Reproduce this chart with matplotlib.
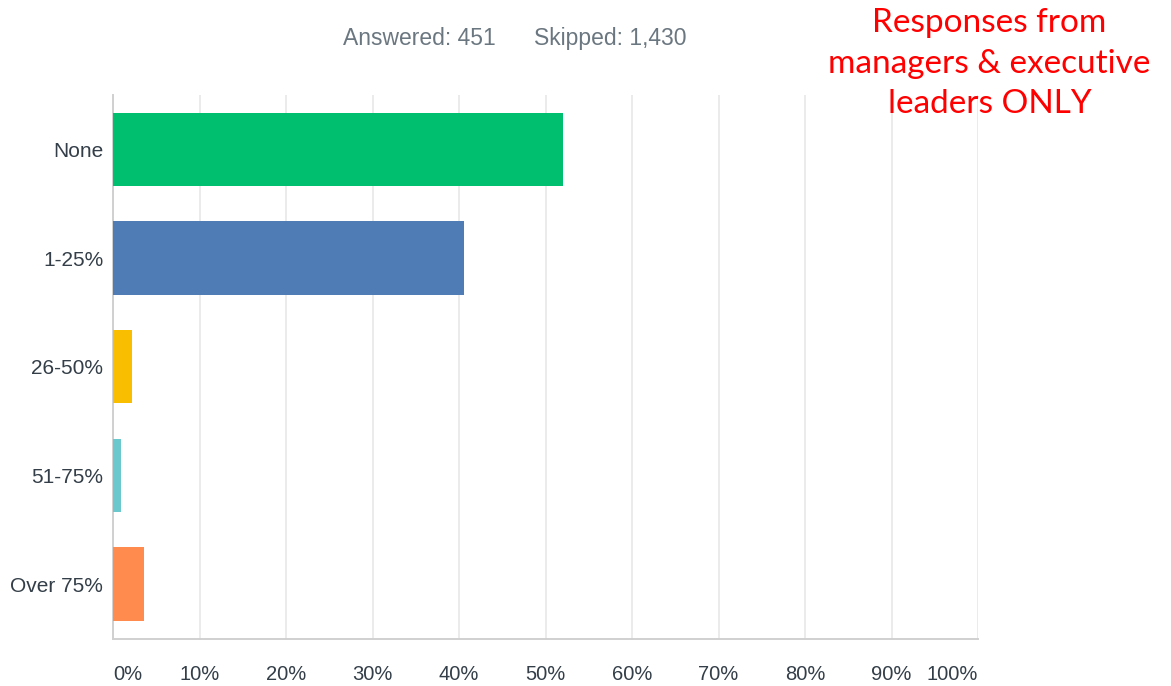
import matplotlib
matplotlib.use("Agg")
import matplotlib.pyplot as plt

categories = ["None", "1-25%", "26-50%", "51-75%", "Over 75%"]
values = [52.0, 40.6, 2.2, 0.9, 3.6]
colors = ["#00bf6f", "#507cb6", "#f9be00", "#6bc8cd", "#ff8b4f"]
xticks = [0, 10, 20, 30, 40, 50, 60, 70, 80, 90, 100]
xticklabels = [f"{t}%" for t in xticks]

plt.rcParams['font.family'] = ['Liberation Sans', 'DejaVu Sans']

fig = plt.figure(figsize=(11.71, 6.86), dpi=100)
ax = fig.add_axes([0.0965, 0.0692, 0.7387, 0.7923])

ypos = list(range(len(categories)))
ax.barh(ypos, values, height=0.675, color=colors, zorder=3)

ax.set_xlim(0, 100)
ax.set_ylim(len(categories) - 0.5, -0.5)
ax.set_yticks(ypos)
ax.set_yticklabels(categories, fontsize=15, color="#333e48")
ax.set_xticks(xticks)
ax.set_xticklabels(xticklabels, fontsize=14.5, color="#333e48")
labels = ax.get_xticklabels()
labels[0].set_horizontalalignment("left")
labels[-1].set_horizontalalignment("right")

ax.tick_params(axis="both", length=0)
ax.tick_params(axis="y", pad=7)
ax.tick_params(axis="x", pad=19)

ax.grid(axis="x", color="#ebebeb", linewidth=1.4, zorder=0)
for s in ["top", "right"]:
    ax.spines[s].set_visible(False)
for s in ["left", "bottom"]:
    ax.spines[s].set_color("#d0d0d0")
    ax.spines[s].set_linewidth(1.4)

fig.text(0.44, 0.944, "Answered: 451      Skipped: 1,430", ha="center", va="center",
         fontsize=16.5, color="#6b7780")

fig.text(0.845, 0.907, "Responses from\nmanagers & executive\nleaders ONLY", ha="center",
         va="center", fontsize=24, color="#ff0000", family=["Lato", "DejaVu Sans"],
         linespacing=1.44)

fig.savefig("out.png", dpi=100)
